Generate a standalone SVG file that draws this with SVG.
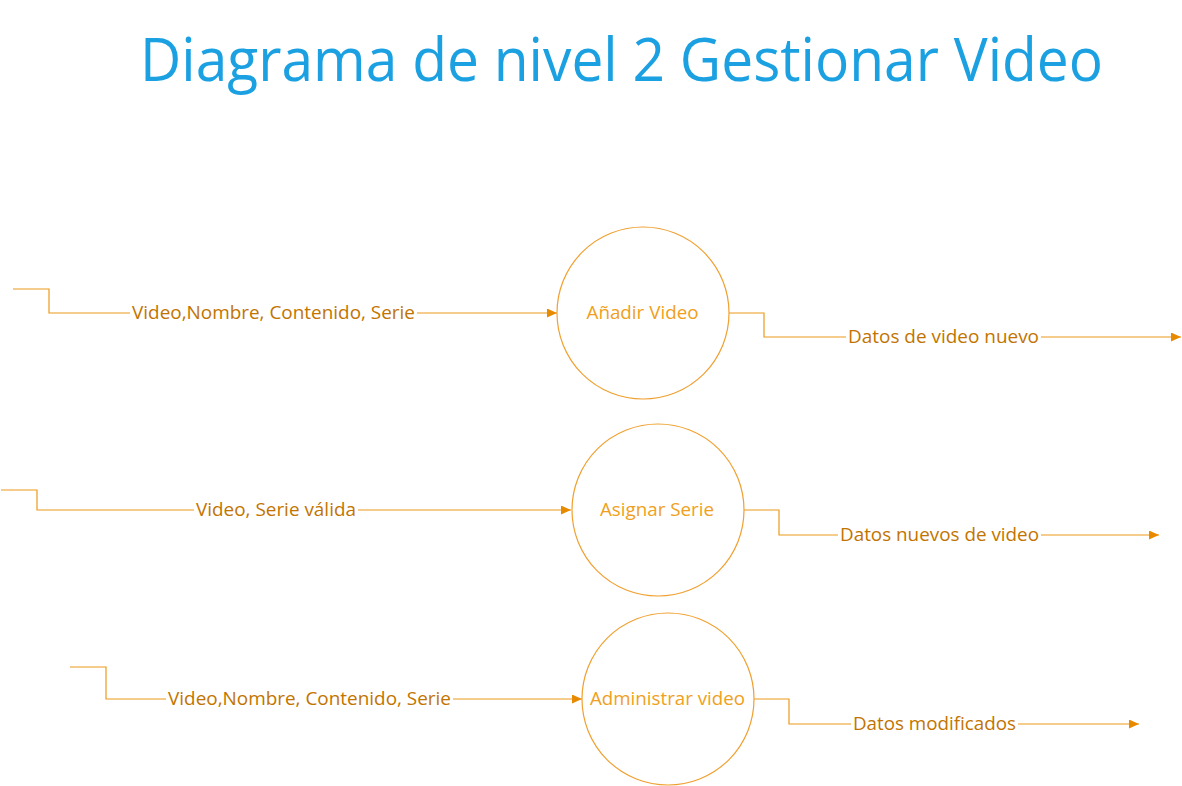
<svg xmlns="http://www.w3.org/2000/svg" width="1182" height="786" viewBox="0 0 1182 786">
<style>
.title{font-family:"Open Sans","Noto Sans",sans-serif;font-size:61px;fill:#1BA1E2}
.proc{fill:#FFFFFF;stroke:#F0A030;stroke-width:1.2}
.ptext{font-family:"Open Sans","Noto Sans",sans-serif;font-size:17.5px;fill:#F0A020;text-anchor:middle}
.flow{fill:none;stroke:#ED9A1C;stroke-width:1.2}
.ftext{font-family:"Open Sans","Noto Sans",sans-serif;font-size:17.5px;fill:#C27400;text-anchor:middle}
</style>
<defs>
<marker id="arr" markerUnits="userSpaceOnUse" markerWidth="11" markerHeight="10" refX="10" refY="4.5" orient="auto">
<path d="M0,0 L10,4.5 L0,9 z" fill="#E88A00"/>
</marker>
</defs>
<rect width="1182" height="786" fill="#FFFFFF"/>
<text class="title" x="140" y="81" textLength="963" lengthAdjust="spacingAndGlyphs">Diagrama de nivel 2 Gestionar Video</text>

<g id="connectors">
<g id="f1in">
<polyline class="flow" points="13,289 49,289 49,313 130,313"/>
<line class="flow" x1="417" y1="313" x2="557" y2="313" marker-end="url(#arr)"/>
<text class="ftext" x="273.5" y="319" textLength="283" lengthAdjust="spacingAndGlyphs">Video,Nombre, Contenido, Serie</text>
</g>
<g id="f1out">
<polyline class="flow" points="729,313 764,313 764,337 846,337"/>
<line class="flow" x1="1041" y1="337" x2="1181" y2="337" marker-end="url(#arr)"/>
<text class="ftext" x="943.5" y="343" textLength="191" lengthAdjust="spacingAndGlyphs">Datos de video nuevo</text>
</g>
<g id="f2in">
<polyline class="flow" points="1,490 37,490 37,510 194,510"/>
<line class="flow" x1="358" y1="510" x2="571" y2="510" marker-end="url(#arr)"/>
<text class="ftext" x="276" y="516" textLength="160" lengthAdjust="spacingAndGlyphs">Video, Serie válida</text>
</g>
<g id="f2out">
<polyline class="flow" points="744,510 779,510 779,535 838,535"/>
<line class="flow" x1="1041" y1="535" x2="1159" y2="535" marker-end="url(#arr)"/>
<text class="ftext" x="939.5" y="541" textLength="199" lengthAdjust="spacingAndGlyphs">Datos nuevos de video</text>
</g>
<g id="f3in">
<polyline class="flow" points="70,667 106,667 106,699 166,699"/>
<line class="flow" x1="453" y1="699" x2="582" y2="699" marker-end="url(#arr)"/>
<text class="ftext" x="309.5" y="705" textLength="283" lengthAdjust="spacingAndGlyphs">Video,Nombre, Contenido, Serie</text>
</g>
<g id="f3out">
<polyline class="flow" points="754,699 789,699 789,724 851,724"/>
<line class="flow" x1="1018" y1="724" x2="1139" y2="724" marker-end="url(#arr)"/>
<text class="ftext" x="934.5" y="730" textLength="163" lengthAdjust="spacingAndGlyphs">Datos modificados</text>
</g>
</g>

<g id="p1">
<circle class="proc" cx="643" cy="313" r="86"/>
<text class="ptext" x="642.5" y="319" textLength="112" lengthAdjust="spacingAndGlyphs">Añadir Video</text>
</g>
<g id="p2">
<circle class="proc" cx="658" cy="510" r="86"/>
<text class="ptext" x="657" y="516" textLength="114" lengthAdjust="spacingAndGlyphs">Asignar Serie</text>
</g>
<g id="p3">
<circle class="proc" cx="668" cy="699" r="86"/>
<text class="ptext" x="667.5" y="705" textLength="155" lengthAdjust="spacingAndGlyphs">Administrar video</text>
</g>
</svg>
